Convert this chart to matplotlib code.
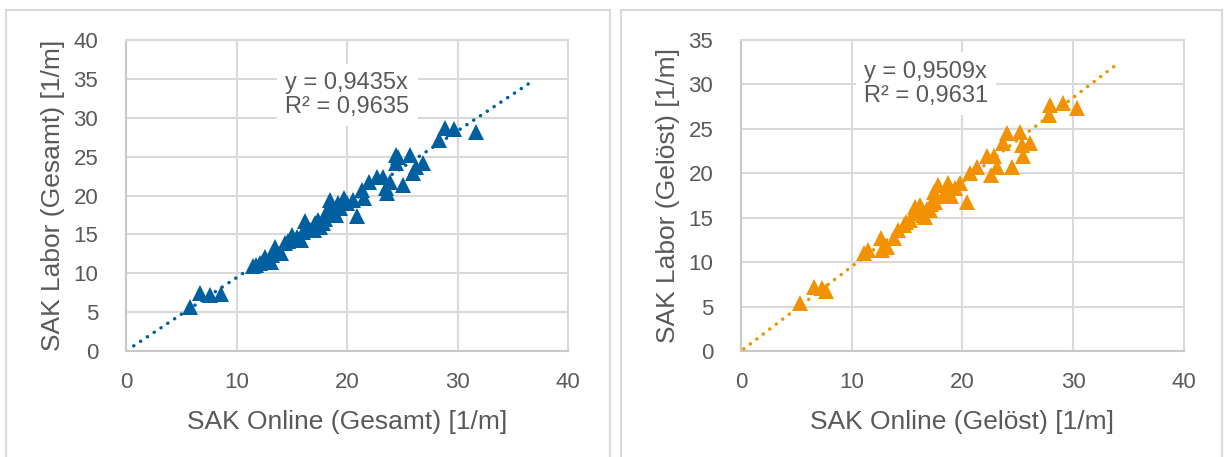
import numpy as np
import matplotlib.pyplot as plt
from matplotlib.patches import Rectangle

plt.rcParams['font.family'] = ['Liberation Sans', 'DejaVu Sans']

# --- Data: SAK Gesamt (left panel) ---
gesamt_online = [5.8, 6.7, 7.6, 8.6, 11.5, 11.8, 12.1, 12.4, 12.6, 13.1, 13.2, 13.5,
                 14.0, 14.4, 14.7, 15.0, 15.5, 15.8, 16.0, 16.2, 16.5, 16.7, 17.0, 17.1,
                 17.4, 17.6, 17.8, 18.0, 18.2, 18.5, 18.6, 18.8, 19.0, 19.2, 19.4, 19.7,
                 20.0, 20.5, 20.9, 21.4, 21.5, 22.0, 22.7, 23.3, 23.5, 23.6, 23.9, 24.4,
                 24.4, 24.6, 25.1, 25.7, 26.0, 26.2, 26.9, 28.3, 28.9, 29.7, 31.7]
gesamt_labor = [5.7, 7.5, 7.2, 7.3, 10.9, 11.0, 11.3, 11.6, 12.1, 11.5, 12.3, 13.4,
                12.6, 13.9, 14.2, 14.9, 14.6, 14.3, 15.3, 16.7, 15.8, 15.6, 15.5, 16.4,
                16.8, 16.0, 16.5, 17.0, 18.0, 19.4, 18.5, 17.9, 17.5, 19.0, 18.4, 19.7,
                19.0, 19.4, 17.3, 20.7, 19.7, 21.8, 22.4, 22.4, 21.0, 20.3, 21.8, 24.2,
                25.2, 24.9, 21.4, 25.2, 22.9, 23.7, 24.2, 27.2, 28.7, 28.5, 28.2]
gesamt_slope = 0.9435
gesamt_r2 = 0.9635
gesamt_trend_x = [0.7, 36.7]

# --- Data: SAK Gelöst (right panel) ---
geloest_online = [5.3, 6.6, 7.3, 7.7, 11.1, 11.5, 12.6, 12.7, 13.2, 13.8, 14.2, 14.7,
                  14.9, 15.3, 15.7, 15.9, 16.2, 16.4, 16.6, 16.8, 17.1, 17.2, 17.4, 17.5,
                  17.8, 18.2, 18.5, 18.7, 19.0, 19.3, 19.8, 20.4, 20.7, 21.3, 22.2, 22.6,
                  22.8, 23.1, 23.7, 24.0, 24.5, 25.2, 25.4, 25.5, 26.1, 27.8, 27.9, 29.1,
                  30.3]
geloest_labor = [5.4, 7.2, 7.05, 6.8, 11.0, 11.4, 12.7, 11.4, 11.7, 12.7, 13.6, 14.2,
                 14.5, 14.7, 16.2, 15.5, 16.4, 15.3, 15.1, 16.0, 15.9, 16.5, 17.9, 16.8,
                 18.7, 17.5, 18.1, 18.9, 17.4, 18.3, 18.9, 16.8, 20.0, 20.7, 21.9, 19.8,
                 21.9, 20.7, 23.4, 24.5, 20.7, 24.7, 23.2, 21.9, 23.4, 26.6, 27.7, 27.9,
                 27.3]
geloest_slope = 0.9509
geloest_r2 = 0.9631
geloest_trend_x = [0.25, 33.9]

TEXT = '#595959'
GRID = '#D9D9D9'


def fmt(v):
    return f"{v:.4f}".replace('.', ',')


def draw_panel(ax, x, y, slope, r2, trend_x, color, ymax, xlabel, ylabel, eq_pos):
    ax.grid(True, color=GRID, linewidth=1.5, zorder=0)
    ax.set_axisbelow(True)
    for s in ax.spines.values():
        s.set_color(GRID)
        s.set_linewidth(1.5)
    ax.spines['left'].set_color('#C8C8C8')
    ax.spines['bottom'].set_color('#C8C8C8')

    ax.plot(x, y, linestyle='none', marker='^', ms=11.5, color=color,
            markeredgewidth=0, zorder=3)

    tx = np.array(trend_x)
    ax.plot(tx, slope * tx, color=color, linewidth=2.5,
            linestyle=(0, (0.05, 2.3)), dash_capstyle='round', zorder=4)

    ax.text(eq_pos[0], eq_pos[1], f"y = {fmt(slope)}x\nR² = {fmt(r2)}",
            fontsize=17, color=TEXT, ha='left', va='center', linespacing=1.12,
            bbox=dict(facecolor='white', edgecolor='none', pad=6), zorder=5)

    ax.set_xlim(0, 40)
    ax.set_ylim(0, ymax)
    ax.set_xticks(np.arange(0, 41, 10))
    ax.set_yticks(np.arange(0, ymax + 1, 5))
    ax.tick_params(length=0, labelsize=16, labelcolor=TEXT, pad=15)
    ax.tick_params(axis='y', pad=20)
    ax.set_xlabel(xlabel, fontsize=19, color=TEXT, labelpad=12)
    ax.set_ylabel(ylabel, fontsize=19, color=TEXT, labelpad=6)


fig = plt.figure(figsize=(12.24, 4.57), dpi=100)
fig.patch.set_facecolor('white')

# panel frames
fig.patches.append(Rectangle((6 / 1224, -0.05), 604 / 1224, 1.05 - 10 / 457,
                             transform=fig.transFigure, fill=False,
                             edgecolor=GRID, linewidth=1.5))
fig.patches.append(Rectangle((621 / 1224, -0.05), 601 / 1224, 1.05 - 10 / 457,
                             transform=fig.transFigure, fill=False,
                             edgecolor=GRID, linewidth=1.5))

ax1 = fig.add_axes([126 / 1224, 1 - 351 / 457, 442 / 1224, 311 / 457])
ax2 = fig.add_axes([741 / 1224, 1 - 351 / 457, 443 / 1224, 311 / 457])

draw_panel(ax1, gesamt_online, gesamt_labor, gesamt_slope, gesamt_r2, gesamt_trend_x,
           '#005F9E', 40, 'SAK Online (Gesamt) [1/m]', 'SAK Labor (Gesamt) [1/m]',
           (14.4, 32.9))
draw_panel(ax2, geloest_online, geloest_labor, geloest_slope, geloest_r2, geloest_trend_x,
           '#F39200', 35, 'SAK Online (Gelöst) [1/m]', 'SAK Labor (Gelöst) [1/m]',
           (11.1, 30.1))

fig.savefig('out.png', dpi=100)
